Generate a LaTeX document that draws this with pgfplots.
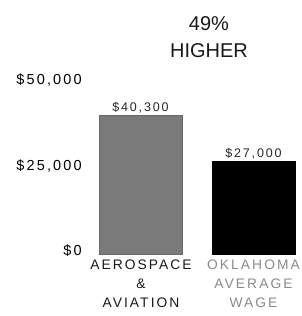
\documentclass[border=0pt]{standalone}
\usepackage{pgfplots}
\pgfplotsset{compat=1.18}
\usepackage{fontspec}
\setmainfont{Liberation Sans}
\newfontfamily\spaced[LetterSpace=15]{Liberation Sans}
\definecolor{barg}{HTML}{7A7A7A}
\definecolor{lab2}{HTML}{8A8A8A}
\begin{document}
\begin{tikzpicture}[x=1pt,y=1pt]
\useasboundingbox (0,0) rectangle (301,316);
\begin{axis}[
  at={(99pt,62pt)}, anchor=south west,
  scale only axis,
  width=196pt, height=172.5pt,
  xmin=-0.3673, xmax=1.3673,
  ymin=0, ymax=50000,
  axis line style={draw=none},
  tick style={draw=none},
  clip=false,
  ybar, bar width=83pt,
  xtick=\empty,
  ytick=\empty,
  nodes near coords,
  point meta=explicit symbolic,
  nodes near coords style={font=\spaced\fontsize{12.5}{14}\selectfont, text=black!85, anchor=south, yshift=-2pt},
]
\addplot[fill=barg, draw=barg!85!black, bar shift=0pt] coordinates {(0,40300) [\$40,300]};
\addplot[fill=black, draw=black, bar shift=0pt] coordinates {(1,27000) [\$27,000]};
\node[font=\spaced\fontsize{14.5}{16}\selectfont, anchor=east, inner sep=0pt] at (axis cs:-0.3673,0) [xshift=-17pt, yshift=3pt] {\$0};
\node[font=\spaced\fontsize{14.5}{16}\selectfont, anchor=east, inner sep=0pt] at (axis cs:-0.3673,25000) [xshift=-17pt, yshift=2pt] {\$25,000};
\node[font=\spaced\fontsize{14.5}{16}\selectfont, anchor=east, inner sep=0pt] at (axis cs:-0.3673,50000) [xshift=-17pt, yshift=1pt] {\$50,000};
\end{axis}
\node[font=\spaced\fontsize{13.8}{19}\selectfont, align=center, anchor=north, text=black!90] at (141,60) {AEROSPACE\\\&\\AVIATION};
\node[font=\spaced\fontsize{13.8}{19}\selectfont, align=center, anchor=north, text=lab2] at (253.5,60) {OKLAHOMA\\AVERAGE\\WAGE};
\node[font=\fontsize{20}{27}\selectfont, align=center, text=black!90] at (209,279) {49\%\\HIGHER};
\end{tikzpicture}
\end{document}
